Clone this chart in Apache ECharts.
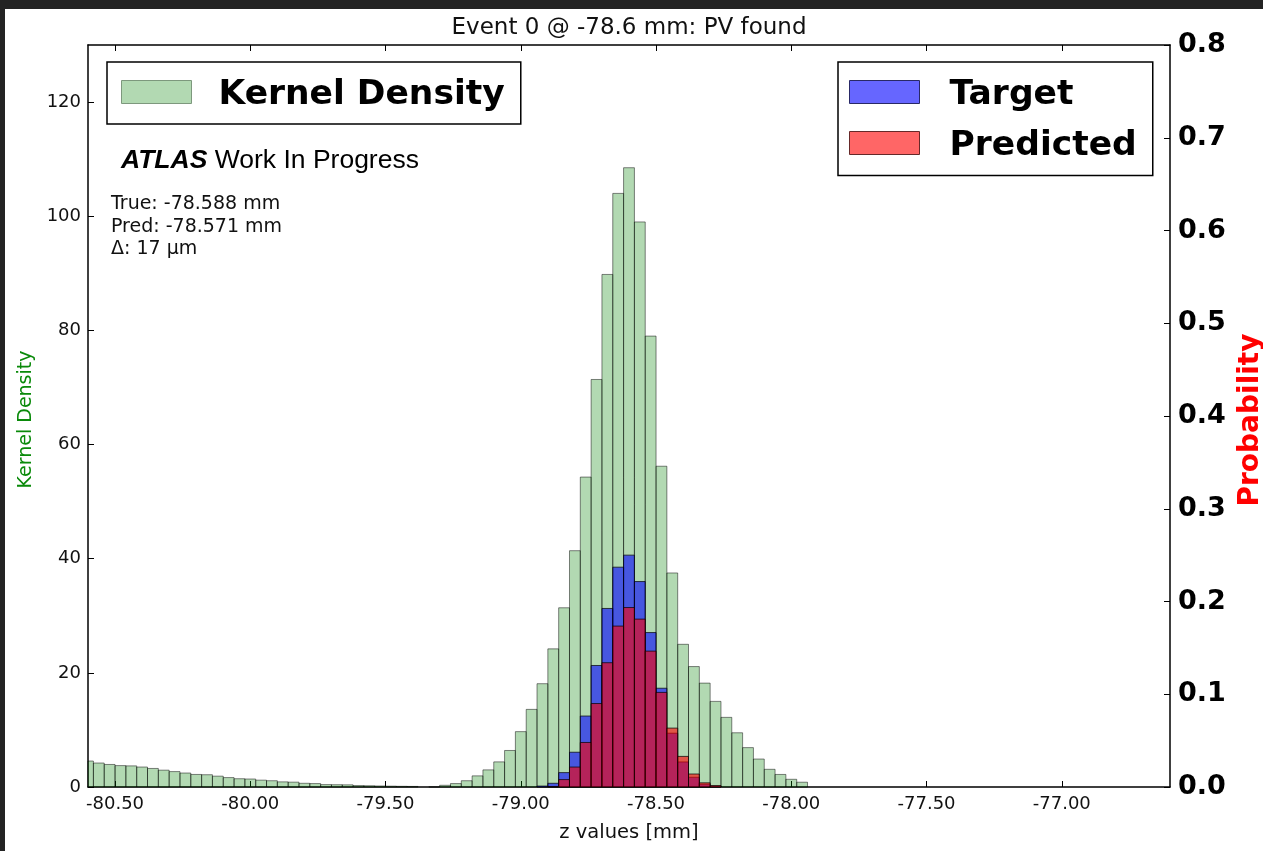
<!DOCTYPE html>
<html>
<head>
<meta charset="utf-8">
<title>Event 0 PV histogram</title>
<script src="https://cdn.jsdelivr.net/npm/echarts@6/dist/echarts.min.js"></script>
<style>
  html, body { margin: 0; padding: 0; width: 1263px; height: 851px; overflow: hidden; background: #232323; }
  #chart { position: absolute; left: 5px; top: 9px; width: 1258px; height: 842px; background: #ffffff; }
</style>
</head>
<body>
<div id="chart"></div>
<script>
// ---- z window and binning (mm) ----
const Z_MIN = -80.6;
const Z_MAX = -76.6;
const BIN_WIDTH = 0.04;

// ---- axis ticks ----
const X_TICKS = [-80.5, -80.0, -79.5, -79.0, -78.5, -78.0, -77.5, -77.0];
const KD_TICKS = [0, 20, 40, 60, 80, 100, 120];
const PROB_TICKS = [0, 0.1, 0.2, 0.3, 0.4, 0.5, 0.6, 0.7, 0.8];
const KD_MAX = 130;
const PROB_MAX = 0.8;

// ---- event info ----
const EVENT_ID = 0;
const TRUE_Z = -78.588;
const PRED_Z = -78.571;

// ---- kernel density per bin, bins 0..66 (later bins are empty) ----
const KERNEL_DENSITY = [
  4.55, 4.2, 3.95, 3.75, 3.7, 3.5, 3.25, 2.95, 2.7, 2.45,
  2.2, 2.15, 1.9, 1.65, 1.45, 1.4, 1.2, 1.1, 0.9, 0.85,
  0.65, 0.6, 0.42, 0.4, 0.38, 0.25, 0.22, 0.18, 0.15, 0.12,
  0.1, 0, 0.02, 0.3, 0.6, 1.1, 1.95, 3.0, 4.4, 6.4,
  9.7, 13.6, 18.1, 24.2, 31.4, 41.4, 54.3, 71.4, 89.8, 104.0,
  108.5, 99.0, 79.0, 56.2, 37.5, 25.0, 21.1, 18.2, 15.0, 12.2,
  9.5, 6.9, 4.9, 3.1, 2.2, 1.35, 0.84
];

// ---- target / predicted probability, starting at bin 42 ----
const PROB_FIRST_BIN = 42;
const TARGET_PROB = [
  0.001, 0.004, 0.0155, 0.0375, 0.0765, 0.131, 0.1925, 0.237, 0.25,
  0.2215, 0.1665, 0.1065, 0.058, 0.027, 0.0105, 0.003, 0.001
];
const PREDICTED_PROB = [
  0, 0.0005, 0.008, 0.0215, 0.048, 0.09, 0.134, 0.1735, 0.1935,
  0.181, 0.1465, 0.102, 0.0635, 0.033, 0.014, 0.0045, 0.0015
];

const FONT = '"DejaVu Sans", sans-serif';
const SANS = '"Liberation Sans", Arial, sans-serif';

function binCenter(i) {
  return +(Z_MIN + i * BIN_WIDTH).toFixed(4);
}

function toBinData(values, firstBin) {
  return values.map((v, i) => [binCenter(firstBin + i), v]);
}

// Draws one histogram bin as a rectangle spanning the bin width, clipped to the plot.
function makeBinRenderer(fill, stroke) {
  return function (params, api) {
    const x = api.value(0);
    const h = api.value(1);
    if (!h) return null;
    const topLeft = api.coord([x - BIN_WIDTH / 2, h]);
    const bottomRight = api.coord([x + BIN_WIDTH / 2, 0]);
    const shape = echarts.graphic.clipRectByRect({
      x: topLeft[0],
      y: topLeft[1],
      width: bottomRight[0] - topLeft[0],
      height: bottomRight[1] - topLeft[1]
    }, params.coordSys);
    if (!shape) return null;
    return {
      type: 'rect',
      shape: shape,
      style: { fill: fill, stroke: stroke, lineWidth: 1 }
    };
  };
}

const deltaMicron = Math.round(Math.abs(PRED_Z - TRUE_Z) * 1000);
const titleText = 'Event ' + EVENT_ID + ' @ ' + TRUE_Z.toFixed(1) + ' mm: PV found';
const infoText = 'True: ' + TRUE_Z.toFixed(3) + ' mm\n' +
                 'Pred: ' + PRED_Z.toFixed(3) + ' mm\n' +
                 '\u0394: ' + deltaMicron + ' \u03bcm';

const axisLine = { show: true, onZero: false, lineStyle: { color: '#000000', width: 1.5 } };
const tickStyle = { color: '#000000', width: 1 };

// Legend labels: bold text set slightly below the swatch centre
function legendTextStyle(leftGap) {
  return {
    fontFamily: FONT, fontWeight: 'bold', fontSize: 34.5, color: '#000000',
    padding: [0, 0, 0, leftGap],
    rich: {
      t: {
        fontFamily: FONT, fontWeight: 'bold', fontSize: 34.5, color: '#000000',
        lineHeight: 34, padding: [6, 0, 0, 0]
      }
    }
  };
}

const chart = echarts.init(document.getElementById('chart'), null, { renderer: 'canvas' });

chart.setOption({
  animation: false,
  backgroundColor: '#ffffff',
  grid: { left: 83, top: 36, right: 93, bottom: 64, containLabel: false, outerBoundsMode: 'none' },
  xAxis: [
    {
      type: 'value', min: Z_MIN, max: Z_MAX, position: 'bottom',
      name: 'z values [mm]', nameLocation: 'middle', nameGap: 36,
      nameTextStyle: { fontFamily: FONT, fontSize: 19.5, color: '#111111' },
      axisLine: axisLine,
      axisTick: { show: true, inside: true, length: 6, customValues: X_TICKS, lineStyle: tickStyle },
      axisLabel: {
        show: true, customValues: X_TICKS, margin: 8,
        formatter: v => v.toFixed(2),
        fontFamily: FONT, fontSize: 18, color: '#111111'
      },
      splitLine: { show: false }
    },
    {
      type: 'value', min: Z_MIN, max: Z_MAX, position: 'top',
      axisLine: axisLine,
      axisTick: { show: true, inside: true, length: 6, customValues: X_TICKS, lineStyle: tickStyle },
      axisLabel: { show: false },
      splitLine: { show: false }
    }
  ],
  yAxis: [
    {
      type: 'value', min: 0, max: KD_MAX, position: 'left',
      name: 'Kernel Density', nameLocation: 'middle', nameGap: 52, nameRotate: 90,
      nameTextStyle: { fontFamily: FONT, fontSize: 19, color: '#0a8a0a', padding: [0, 7, 0, 0] },
      axisLine: axisLine,
      axisTick: { show: true, inside: true, length: 6, customValues: KD_TICKS, lineStyle: tickStyle },
      axisLabel: {
        show: true, customValues: KD_TICKS, margin: 7,
        fontFamily: FONT, fontSize: 18, color: '#111111'
      },
      splitLine: { show: false }
    },
    {
      type: 'value', min: 0, max: PROB_MAX, position: 'right',
      name: 'Probability', nameLocation: 'middle', nameGap: 66, nameRotate: 90,
      nameTextStyle: { fontFamily: FONT, fontSize: 28, fontWeight: 'bold', color: '#ff0000', padding: [0, 8, 0, 0] },
      axisLine: axisLine,
      axisTick: { show: true, inside: true, length: 6, customValues: PROB_TICKS, lineStyle: tickStyle },
      axisLabel: {
        show: true, customValues: PROB_TICKS, margin: 8,
        formatter: v => v.toFixed(1),
        fontFamily: FONT, fontSize: 27, fontWeight: 'bold', color: '#000000'
      },
      splitLine: { show: false }
    }
  ],
  legend: [
    {
      data: [{ name: 'Kernel Density', icon: 'rect',
               itemStyle: { color: '#b2d9b2', borderColor: '#7d987d', borderWidth: 1 } }],
      formatter: name => '{t|' + name + '}',
      orient: 'vertical', left: 102, top: 53,
      itemWidth: 70, itemHeight: 23,
      padding: [9.5, 16, 11.5, 14],
      borderColor: '#000000', borderWidth: 1.5, backgroundColor: '#ffffff',
      selectedMode: false,
      textStyle: legendTextStyle(22)
    },
    {
      data: [
        { name: 'Target', icon: 'rect', itemStyle: { color: '#6666ff', borderColor: '#292966', borderWidth: 1 } },
        { name: 'Predicted', icon: 'rect', itemStyle: { color: '#ff6666', borderColor: '#662929', borderWidth: 1 } }
      ],
      formatter: name => '{t|' + name + '}',
      orient: 'vertical', left: 833, top: 53,
      itemWidth: 70, itemHeight: 23, itemGap: 10,
      padding: [9.5, 16, 12, 11],
      borderColor: '#000000', borderWidth: 1.5, backgroundColor: '#ffffff',
      selectedMode: false,
      textStyle: legendTextStyle(25)
    }
  ],
  graphic: [
    {
      type: 'text', x: 624, y: 19, silent: true,
      style: { text: titleText, fontFamily: FONT, fontSize: 23, fill: '#111111', textAlign: 'center', textVerticalAlign: 'middle' }
    },
    {
      type: 'text', x: 116, y: 152, silent: true,
      style: {
        text: '{a|ATLAS} {b|Work In Progress}',
        fontFamily: SANS, fontSize: 26.5, fill: '#000000',
        textVerticalAlign: 'middle',
        rich: {
          a: { fontFamily: SANS, fontSize: 26.5, fontWeight: 'bold', fontStyle: 'italic', color: '#000000' },
          b: { fontFamily: SANS, fontSize: 26.5, color: '#000000' }
        }
      }
    },
    {
      type: 'text', x: 106, y: 184, silent: true,
      style: { text: infoText, fontFamily: FONT, fontSize: 19, lineHeight: 22.5, fill: '#111111', textVerticalAlign: 'top' }
    }
  ],
  series: [
    {
      name: 'Kernel Density', type: 'custom', xAxisIndex: 0, yAxisIndex: 0, z: 2,
      itemStyle: { color: '#b2d9b2' },
      encode: { x: 0, y: 1 },
      renderItem: makeBinRenderer('rgba(0,128,0,0.3)', 'rgba(0,0,0,0.48)'),
      data: toBinData(KERNEL_DENSITY, 0)
    },
    {
      name: 'Target', type: 'custom', xAxisIndex: 0, yAxisIndex: 1, z: 3,
      itemStyle: { color: '#6666ff' },
      encode: { x: 0, y: 1 },
      renderItem: makeBinRenderer('rgba(0,0,255,0.6)', 'rgba(0,0,0,0.7)'),
      data: toBinData(TARGET_PROB, PROB_FIRST_BIN)
    },
    {
      name: 'Predicted', type: 'custom', xAxisIndex: 0, yAxisIndex: 1, z: 4,
      itemStyle: { color: '#ff6666' },
      encode: { x: 0, y: 1 },
      renderItem: makeBinRenderer('rgba(255,0,0,0.6)', 'rgba(0,0,0,0.7)'),
      data: toBinData(PREDICTED_PROB, PROB_FIRST_BIN)
    }
  ]
});
</script>
</body>
</html>
